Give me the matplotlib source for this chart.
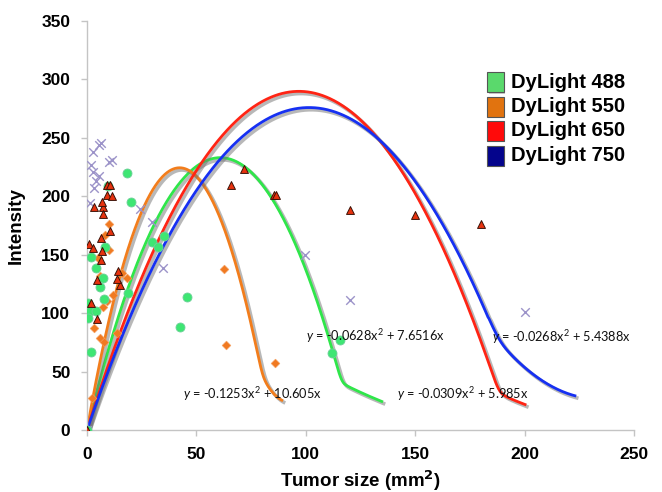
import numpy as np
import matplotlib
matplotlib.use("Agg")
import matplotlib.pyplot as plt
from matplotlib import patheffects as pe
from matplotlib.patches import Rectangle

plt.rcParams["font.family"] = ["Liberation Sans", "DejaVu Sans"]
plt.rcParams["mathtext.fontset"] = "custom"
plt.rcParams["mathtext.it"] = "Lato:italic"
plt.rcParams["mathtext.rm"] = "Lato"

# ---- measurements: tumor size (mm^2) vs intensity ----
dl488_x = [0, 0.6, 1.4, 4.1, 0.6, 1.7, 1.8, 4.1, 5.9, 7.5, 7.8, 8.2, 18.9, 9.5,
           18.4, 19.9, 29.8, 32.3, 35.3, 42.5, 45.6, 112.2, 115.8]
dl488_y = [0, 108.5, 102, 102, 95.6, 67, 148, 139, 122.7, 130, 112, 157, 117.5, 209,
           220, 195.5, 161, 156.4, 166, 88, 114, 65.6, 77]

dl550_x = [0, 2.1, 3.3, 5.9, 7.9, 13.8, 7.4, 9.0, 12.0, 5.9, 15.8, 18.1, 5.2, 10.2,
           8.4, 10.2, 62.7, 63.5, 85.9]
dl550_y = [0, 27, 87, 79, 75, 83, 105.6, 110.7, 115.6, 132, 134, 130, 147, 154,
           167, 176, 138, 73, 57]

dl650_x = [0, 0.8, 2.7, 6.8, 6.5, 14.2, 4.7, 14.9, 13.6, 2.0, 4.6, 6.2, 10.7, 3.1,
           7.3, 6.8, 7.3, 9.3, 10.5, 9.3, 11.6, 65.7, 71.8, 85.4, 86.5, 120, 150, 180]
dl650_y = [0, 159, 156, 153.5, 145.5, 136, 128.4, 124, 129, 108.5, 95, 164.6, 170, 191,
           191, 195.5, 185, 210, 210, 201, 200, 210, 223, 201, 201, 188, 184, 176]

dl750_x = [0, 6.3, 5.5, 2.9, 1.8, 2.9, 5.6, 4.1, 3.3, 11.3, 10.0, 1.4, 24.2, 29.5,
           34.7, 99.5, 120, 200]
dl750_y = [0, 246, 244, 238, 227, 221, 217, 213, 207, 231, 229, 194, 189, 178,
           139, 150, 111, 101]

# ---- polynomial trendlines y = a*x^2 + b*x ----
series_names = ["DyLight 488", "DyLight 550", "DyLight 650", "DyLight 750"]
fit_a = [-0.0628, -0.1253, -0.0309, -0.0268]
fit_b = [7.6516, 10.605, 5.985, 5.4388]
fit_label = ["-0.0628x$^2$ + 7.6516x", "-0.1253x$^2$ + 10.605x",
             "-0.0309x$^2$ + 5.985x", "-0.0268x$^2$ + 5.4388x"]
# end point of each drawn trendline and the shape of its levelled-off tail
curve_end_x = [135.3, 89.6, 200.8, 223.6]
curve_end_y = [24, 25, 21.4, 29]
tail_slope = [-0.75, -0.8, -0.68, -0.472]
tail_bend = [0.005, 0.1476, 0.01, 0.0241]
tail_span = [30, 15, 20, 40]

line_colors = ["#2fe64a", "#f27d1c", "#ff2414", "#1630f2"]
legend_colors = ["#5ad96c", "#e1730f", "#ff0a0a", "#04048c"]

W, H = 662, 492
fig = plt.figure(figsize=(W / 100, H / 100), dpi=100)
ax = fig.add_axes([87 / W, 1 - 430 / H, (634 - 87) / W, (430 - 21) / H])


def trend_curve(i, k=4.5):
    a, b = fit_a[i], fit_b[i]
    xe, ye = curve_end_x[i], curve_end_y[i]
    x = np.linspace(0, xe, 600)
    quad = a * x ** 2 + b * x
    d = x - xe
    tail = ye + tail_slope[i] * d + tail_bend[i] * d ** 2
    tail = np.where(d > -tail_span[i], tail, -1e6)
    y = k * np.logaddexp(quad / k, tail / k)
    y[0] = 0.0
    return x, y


for i in range(4):
    x, y = trend_curve(i)
    ax.plot(x, y, color=line_colors[i], lw=2.0, zorder=2, solid_capstyle="butt",
            path_effects=[pe.SimpleLineShadow(offset=(1.6, -1.6), shadow_color="0.45",
                                              alpha=0.5, linewidth=2.6),
                          pe.Normal()])

ax.scatter(dl750_x, dl750_y, marker="x", s=38, color="#9c93c9", linewidths=1.0, zorder=3)
ax.scatter(dl550_x, dl550_y, marker="D", s=20, color="#f07a22", edgecolors="#f6a060",
           linewidths=0.4, zorder=4)
ax.scatter(dl488_x, dl488_y, marker="o", s=42, color="#3ee673", edgecolors="#6ecf9a",
           linewidths=0.6, zorder=5)
ax.scatter(dl650_x, dl650_y, marker="^", s=32, color="#e8320e", edgecolors="#3a1208",
           linewidths=0.7, zorder=6)

ax.set_xlim(0, 250)
ax.set_ylim(0, 350)
ax.set_xticks([0, 50, 100, 150, 200, 250])
ax.set_yticks([0, 50, 100, 150, 200, 250, 300, 350])
for side in ("top", "right"):
    ax.spines[side].set_visible(False)
for side in ("left", "bottom"):
    ax.spines[side].set_color("#c4c4c4")
    ax.spines[side].set_linewidth(1.0)
ax.tick_params(axis="both", colors="#c4c4c4", length=4, width=1.0, labelcolor="black",
               labelsize=12.5)
for lab in ax.get_xticklabels() + ax.get_yticklabels():
    lab.set_fontweight("bold")
ax.tick_params(axis="x", pad=8)
ax.tick_params(axis="y", pad=8)

ax.set_xlabel("Tumor size (mm$^{\\mathbf{2}}$)", fontsize=13.5, fontweight="bold", labelpad=5)
ax.set_ylabel("Intensity", fontsize=13.5, fontweight="bold", labelpad=12)

# trendline equations (pixel positions of left edge / vertical centre)
eq_pos = [(306, 336), (183, 394), (397, 394), (492, 337)]
for i, (px, py) in enumerate(eq_pos):
    fig.text(px / W, 1 - py / H, "$y$ = " + fit_label[i], fontsize=9.2,
             family="Lato", va="center", ha="left", color="#111111")

# legend
for i, name in enumerate(series_names):
    cy = 82 + i * 24.5
    fig.patches.append(Rectangle(((487 + 1.5) / W, 1 - (cy + 10 + 1.5) / H), 17 / W, 20 / H,
                                 transform=fig.transFigure, facecolor="0.6", edgecolor="none",
                                 alpha=0.5, zorder=1))
    fig.patches.append(Rectangle((487 / W, 1 - (cy + 10) / H), 17 / W, 20 / H,
                                 transform=fig.transFigure, facecolor=legend_colors[i],
                                 edgecolor="#555555", linewidth=0.8, zorder=2))
    fig.text(511 / W, 1 - cy / H, name, fontsize=14.5, fontweight="bold",
             va="center", ha="left")

fig.savefig("out.png", dpi=100)
